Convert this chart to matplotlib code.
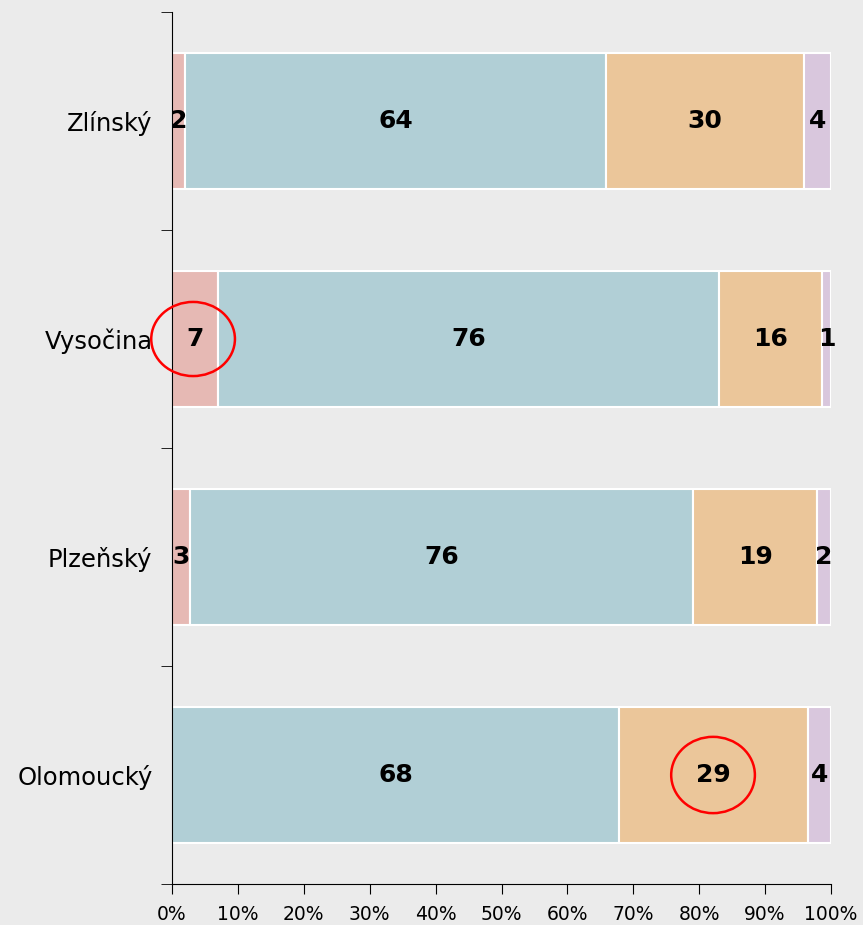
import numpy as np
import matplotlib
matplotlib.use("Agg")
import matplotlib.pyplot as plt
from matplotlib.patches import Ellipse

# Regions (bottom to top) and segment shares in percent
regions = ["Olomoucký", "Plzeňský", "Vysočina", "Zlínský"]
seg_a = [0.0, 2.7, 7.0, 2.0]
seg_b = [67.8, 76.4, 76.0, 63.9]
seg_c = [28.7, 18.8, 15.6, 30.0]
seg_d = [3.5, 2.1, 1.4, 4.1]

# Labels shown on the bars
lab_a = ["", "3", "7", "2"]
lab_b = ["68", "76", "76", "64"]
lab_c = ["29", "19", "16", "30"]
lab_d = ["4", "2", "1", "4"]

colors = ["#e6b9b4", "#b1cfd6", "#ebc69a", "#d9c7dd"]
BG = "#ebebeb"

fig = plt.figure(figsize=(8.63, 9.25), dpi=100, facecolor=BG)
ax = fig.add_axes([172 / 863, 1 - 884 / 925, 659 / 863, 872 / 925])
ax.set_facecolor(BG)

y = np.arange(len(regions))
left = np.zeros(len(regions))
for vals, labs, col in zip([seg_a, seg_b, seg_c, seg_d],
                           [lab_a, lab_b, lab_c, lab_d], colors):
    vals = np.array(vals)
    ax.barh(y, vals, left=left, height=0.62, color=col,
            edgecolor="white", linewidth=1.5)
    for yi, l, v, t in zip(y, left, vals, labs):
        if t:
            ax.text(l + v / 2, yi, t, ha="center", va="center",
                    fontsize=18, fontweight="heavy", color="black")
    left += vals

# red highlight circles
ax.add_patch(Ellipse((3.2, 2), 12.7, 0.34, fill=False, edgecolor="red",
                     linewidth=1.8, clip_on=False, zorder=5))
ax.add_patch(Ellipse((82.1, 0), 12.7, 0.35, fill=False, edgecolor="red",
                     linewidth=1.8, clip_on=False, zorder=5))

ax.set_xlim(0, 100)
ax.set_ylim(-0.5, 3.5)
ax.set_xticks(np.arange(0, 101, 10))
ax.set_xticklabels([f"{v}%" for v in range(0, 101, 10)], fontsize=13.5)
ax.set_yticks(y)
ax.set_yticklabels(regions, fontsize=17.5)
ax.set_yticks(np.arange(-0.5, 3.6, 1), minor=True)
ax.tick_params(axis="y", which="major", length=0, pad=14)
ax.tick_params(axis="y", which="minor", length=8, direction="out")
ax.tick_params(axis="x", length=7, direction="out", pad=8)

for s in ["top", "right"]:
    ax.spines[s].set_visible(False)

plt.savefig("out.png", dpi=100, facecolor=BG)
